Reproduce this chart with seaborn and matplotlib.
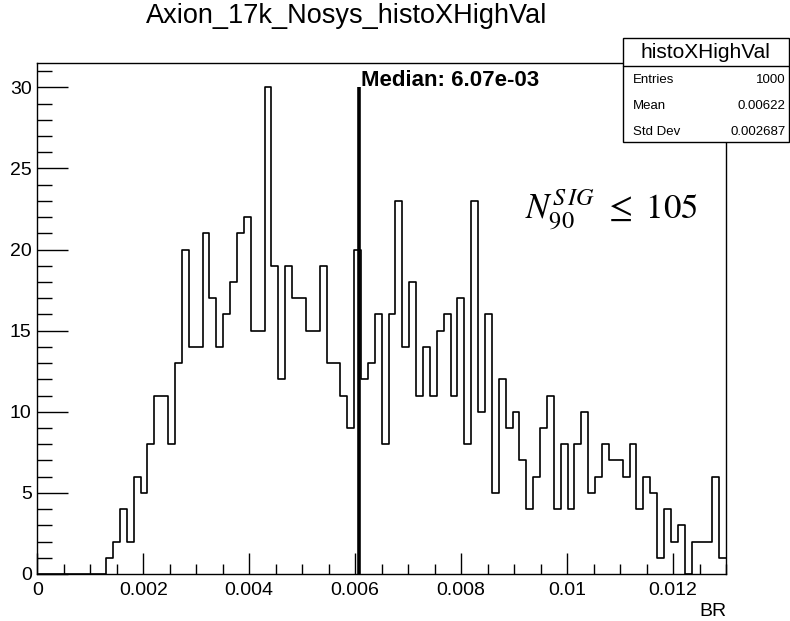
import numpy as np
import pandas as pd
import matplotlib
matplotlib.use("Agg")
import matplotlib.pyplot as plt
import seaborn as sns
from matplotlib.patches import Rectangle
from matplotlib.lines import Line2D

# ---- data ----
x_min = 0.0
x_max = 0.013
n_bins = 100
counts = [
    0, 0, 0, 0, 0, 0, 0, 0, 0, 0,
    1, 2, 4, 2, 6, 5, 8, 11, 11, 8,
    13, 20, 14, 14, 21, 17, 14, 16, 18, 21,
    22, 15, 15, 30, 19, 12, 19, 17, 17, 15,
    15, 19, 13, 13, 11, 9, 20, 12, 13, 16,
    8, 16, 23, 14, 18, 11, 14, 11, 15, 16,
    11, 17, 8, 23, 10, 16, 5, 12, 9, 10,
    7, 4, 6, 9, 11, 4, 8, 4, 8, 10,
    5, 6, 8, 7, 7, 6, 8, 4, 6, 5,
    1, 4, 2, 3, 0, 2, 2, 2, 6, 1,
]
median_value = 0.00607
median_label = "Median: 6.07e-03"
title = "Axion_17k_Nosys_histoXHighVal"
stats_title = "histoXHighVal"
stats_labels = ["Entries", "Mean", "Std Dev"]
stats_values = ["1000", "0.00622", "0.002687"]
x_ticks = [0, 0.002, 0.004, 0.006, 0.008, 0.01, 0.012]
x_tick_labels = ["0", "0.002", "0.004", "0.006", "0.008", "0.01", "0.012"]
y_ticks = [0, 5, 10, 15, 20, 25, 30]
annotation = r"$N_{90}^{S\,IG}\ \leq\ 105$"

edges = np.linspace(x_min, x_max, n_bins + 1)
centers = 0.5 * (edges[:-1] + edges[1:])
df = pd.DataFrame({"BR": centers, "w": np.asarray(counts, dtype=float)})

sns.set_style("white")
plt.rcParams["font.family"] = ["Liberation Sans", "DejaVu Sans"]
plt.rcParams.update({"text.color": "black", "axes.labelcolor": "black",
                     "xtick.color": "black", "ytick.color": "black",
                     "axes.edgecolor": "black"})

fig = plt.figure(figsize=(7.9, 6.21), dpi=100)
ax = fig.add_axes([0.0472, 0.0757, 0.8718, 0.8229])

sns.histplot(data=df, x="BR", weights="w", bins=n_bins, binrange=(x_min, x_max),
             element="step", fill=False, color="black", linewidth=1.2, ax=ax)

ax.set_xlim(x_min, x_max)
ax.set_ylim(0, 1.05 * max(counts))

# median line
ax.plot([median_value, median_value], [0, max(counts)], color="black", lw=2.6,
        solid_capstyle="butt")
ax.text(median_value + 0.00004, max(counts) + 0.05, median_label, fontsize=16,
        fontweight="bold", ha="left", va="baseline")

ax.text(0.0092, 21.9, annotation, fontsize=25, math_fontfamily="stix",
        ha="left", va="baseline")

# axes styling (ROOT-like)
for s in ax.spines.values():
    s.set_color("black")
    s.set_linewidth(1.0)
ax.set_xticks(x_ticks)
ax.set_xticklabels(x_tick_labels)
ax.set_yticks(y_ticks)
ax.xaxis.set_minor_locator(matplotlib.ticker.MultipleLocator(0.0005))
ax.yaxis.set_minor_locator(matplotlib.ticker.MultipleLocator(1))
ax.tick_params(axis="both", which="both", direction="in", bottom=True, left=True,
               top=False, right=False, color="black", labelcolor="black",
               width=1.0, labelsize=14)
ax.tick_params(axis="x", which="major", length=15, pad=6)
ax.tick_params(axis="x", which="minor", length=7.5)
ax.tick_params(axis="y", which="major", length=22, pad=4)
ax.tick_params(axis="y", which="minor", length=11)
ax.set_xlabel("")
ax.set_ylabel("")

fig.text(0.919, 0.0145, "BR", fontsize=14, ha="right", va="center")
fig.text(0.439, 0.975, title, fontsize=19.5, ha="center", va="center")

# stats box
bx0, bx1 = 622.7 / 790, 789.0 / 790
by0, by1 = 1 - 142 / 621, 1 - 37.7 / 621
fig.patches.append(Rectangle((bx0, by0), bx1 - bx0, by1 - by0, transform=fig.transFigure,
                             facecolor="white", edgecolor="black", lw=1.0, zorder=5))
hy = 1 - 66 / 621
fig.lines.append(Line2D([bx0, bx1], [hy, hy], transform=fig.transFigure, color="black",
                        lw=1.0, zorder=6))
fig.text((bx0 + bx1) / 2, 1 - 52 / 621, stats_title, fontsize=15, ha="center",
         va="center", zorder=7)
for lab, val, ypx in zip(stats_labels, stats_values, [80, 106, 131.7]):
    fig.text(632.7 / 790, 1 - ypx / 621, lab, fontsize=9.5, ha="left", va="center", zorder=7)
    fig.text(785.7 / 790, 1 - ypx / 621, val, fontsize=9.5, ha="right", va="center", zorder=7)

fig.savefig("out.png", dpi=100)
